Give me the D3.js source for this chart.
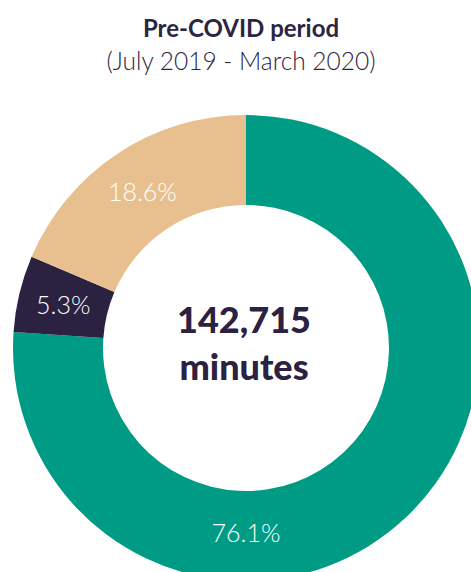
<!DOCTYPE html>
<html>
<head>
<meta charset="utf-8">
<script src="https://cdn.jsdelivr.net/npm/d3@7"></script>
<style>
  body { margin: 0; background: #fff; }
  svg { display: block; font-family: Lato, "Noto Sans", sans-serif; }
  .title { font-size: 24px; font-weight: 700; fill: #2b2542; }
  .subtitle { font-size: 24.5px; font-weight: 300; fill: #2b2542; }
  .slice-label { font-size: 25px; font-weight: 300; fill: #fff; }
  .total { font-size: 36px; font-weight: 900; fill: #2b2140; }
</style>
</head>
<body>
<div id="chart"></div>
<script>
// Share of minutes by category, pre-COVID
const categories = ['A', 'B', 'C'];
const shares = [76.1, 5.3, 18.6];
const colors = ['#009b84', '#2b2140', '#e8c08f'];
const titleText = 'Pre-COVID period';
const subtitleText = '(July 2019 - March 2020)';
const totalLines = ['142,715', 'minutes'];

const width = 471, height = 572;
const cx = 246, cy = 348;
const outerR = 233, innerR = 143;

const svg = d3.select('#chart')
    .append('svg')
    .attr('width', width)
    .attr('height', height);

// Titles
svg.append('text')
    .attr('class', 'title')
    .attr('x', 241)
    .attr('y', 37)
    .attr('text-anchor', 'middle')
    .text(titleText);

svg.append('text')
    .attr('class', 'subtitle')
    .attr('x', 241)
    .attr('y', 70)
    .attr('text-anchor', 'middle')
    .text(subtitleText);

const g = svg.append('g')
    .attr('transform', `translate(${cx},${cy})`);

const data = categories.map((c, i) => ({ name: c, value: shares[i], color: colors[i] }));

const pie = d3.pie()
    .sort(null)
    .value(d => d.value);

const arc = d3.arc()
    .innerRadius(innerR)
    .outerRadius(outerR);

const arcs = pie(data);

g.selectAll('path.slice')
    .data(arcs)
    .enter()
    .append('path')
    .attr('class', 'slice')
    .attr('fill', d => d.data.color)
    .attr('d', arc);

// Labels: small slices at their centroid, the big one at the bottom of the ring
const labelR = (innerR + outerR) / 2;
const labelPos = d => {
    if (d.endAngle - d.startAngle > Math.PI) {
        return [0, labelR - 4];
    }
    return arc.centroid(d);
};

g.selectAll('text.slice-label')
    .data(arcs)
    .enter()
    .append('text')
    .attr('class', 'slice-label')
    .attr('text-anchor', 'middle')
    .attr('dominant-baseline', 'central')
    .attr('transform', d => `translate(${labelPos(d)})`)
    .text(d => d3.format('.1f')(d.data.value) + '%');

// Center total
g.selectAll('text.total')
    .data(totalLines)
    .enter()
    .append('text')
    .attr('class', 'total')
    .attr('text-anchor', 'middle')
    .attr('x', -2)
    .attr('y', (d, i) => -15 + i * 47)
    .text(d => d);
</script>
</body>
</html>
